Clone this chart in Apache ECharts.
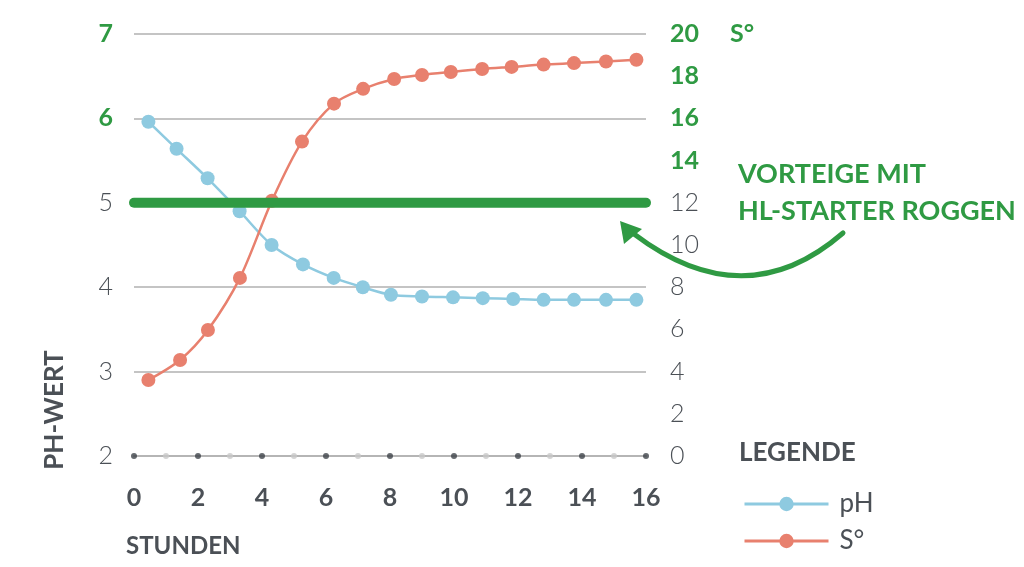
<!DOCTYPE html>
<html>
<head>
<meta charset="utf-8">
<script src="https://cdn.jsdelivr.net/npm/echarts@6/dist/echarts.min.js"></script>
<style>
  html, body { margin: 0; padding: 0; background: #fff; }
  #chart { width: 1024px; height: 567px; }
</style>
</head>
<body>
<div id="chart"></div>
<script>
// Stunden (x) und Messwerte
var phHours = [0.45, 1.33, 2.3, 3.3, 4.3, 5.28, 6.24, 7.15, 8.03, 9.0, 9.97, 10.9, 11.85, 12.8, 13.75, 14.75, 15.7];
var phValues = [5.96, 5.64, 5.29, 4.90, 4.50, 4.27, 4.11, 4.00, 3.91, 3.89, 3.88, 3.87, 3.86, 3.85, 3.85, 3.85, 3.85];
var sHours = [0.45, 1.44, 2.31, 3.31, 4.31, 5.25, 6.25, 7.16, 8.13, 9.0, 9.9, 10.88, 11.8, 12.8, 13.75, 14.75, 15.7];
var sValues = [3.6, 4.55, 5.97, 8.44, 12.1, 14.9, 16.7, 17.4, 17.87, 18.06, 18.2, 18.34, 18.44, 18.55, 18.62, 18.7, 18.78];
var markerHours = [0, 16];
var markerPh = 5;
var tickHours = [0, 1, 2, 3, 4, 5, 6, 7, 8, 9, 10, 11, 12, 13, 14, 15, 16];
var greenLeftTicks = [6, 7];
var greenRightTicks = [14, 16, 18, 20];

var green = '#2f9a43';
var grey = '#4b5056';
var font = 'Lato';

function pairs(xs, ys) {
    var out = [];
    for (var i = 0; i < xs.length; i++) out.push([xs[i], ys[i]]);
    return out;
}

var myChart = echarts.init(document.getElementById('chart'));
var option = {
    animation: false,
    textStyle: { fontFamily: font },
    grid: { left: 134, right: 378, top: 34, bottom: 111 },
    xAxis: {
        type: 'value', min: 0, max: 16, interval: 2,
        axisLine: { lineStyle: { color: '#b5b5b5', width: 2 } },
        axisTick: { show: false },
        splitLine: { show: false },
        axisLabel: { margin: 29, fontSize: 25, fontWeight: 'bold', color: grey }
    },
    yAxis: [{
        type: 'value', min: 2, max: 7, interval: 1,
        axisLine: { show: false }, axisTick: { show: false },
        splitLine: { lineStyle: { color: '#c4c4c4', width: 2 } },
        axisLabel: {
            margin: 21, fontSize: 25,
            formatter: function (v) {
                return greenLeftTicks.indexOf(v) >= 0 ? '{g|' + v + '}' : '{n|' + v + '}';
            },
            rich: {
                g: { fontSize: 25, fontWeight: 'bold', color: green, fontFamily: font },
                n: { fontSize: 25, fontWeight: 300, color: grey, fontFamily: font }
            }
        }
    }, {
        type: 'value', min: 0, max: 20, interval: 2,
        axisLine: { show: false }, axisTick: { show: false },
        splitLine: { show: false },
        axisLabel: {
            margin: 24, fontSize: 25,
            formatter: function (v) {
                return greenRightTicks.indexOf(v) >= 0 ? '{g|' + v + '}' : '{n|' + v + '}';
            },
            rich: {
                g: { fontSize: 25, fontWeight: 'bold', color: green, fontFamily: font },
                n: { fontSize: 25, fontWeight: 300, color: grey, fontFamily: font }
            }
        }
    }],
    legend: {
        orient: 'vertical', left: 738, top: 486,
        itemWidth: 84, itemHeight: 18, itemGap: 11,
        data: ['pH', 'S°'],
        lineStyle: { width: 3 },
        textStyle: { fontSize: 26, color: grey, fontFamily: font, padding: [0, 0, 0, 6] }
    },
    series: [{
        name: 'tickDots', type: 'scatter', yAxisIndex: 0,
        data: tickHours.map(function (h) { return [h, 2]; }),
        symbolSize: 6, silent: true, z: 3,
        itemStyle: {
            color: function (p) { return p.data[0] % 2 === 0 ? '#3f444a' : '#c8c8c8'; }
        }
    }, {
        name: 'pH', type: 'line', yAxisIndex: 0,
        data: pairs(phHours, phValues),
        smooth: 0.3, symbol: 'circle', symbolSize: 14,
        lineStyle: { color: '#8ecae0', width: 2.5 },
        itemStyle: { color: '#8ecae0' }, z: 4
    }, {
        name: 'S°', type: 'line', yAxisIndex: 1,
        data: pairs(sHours, sValues),
        smooth: 0.3, symbol: 'circle', symbolSize: 14,
        lineStyle: { color: '#e8806e', width: 2.5 },
        itemStyle: { color: '#e8806e' }, z: 4
    }, {
        name: 'marker', type: 'line', yAxisIndex: 0,
        data: markerHours.map(function (h) { return [h, markerPh]; }),
        symbol: 'none', silent: true, z: 6,
        lineStyle: { color: green, width: 10, cap: 'round' }
    }],
    graphic: [{
        type: 'text', left: 730, top: 21,
        style: { text: 'S°', fontSize: 25, fontWeight: 'bold', fill: green, fontFamily: font }
    }, {
        type: 'text', x: 55, y: 410, rotation: Math.PI / 2,
        style: { text: 'PH-WERT', fontSize: 26, fontWeight: 'bold', fill: grey, fontFamily: font,
                 align: 'center', verticalAlign: 'middle' }
    }, {
        type: 'text', left: 126, top: 534,
        style: { text: 'STUNDEN', fontSize: 24, fontWeight: 'bold', fill: grey, fontFamily: font }
    }, {
        type: 'text', left: 739, top: 440,
        style: { text: 'LEGENDE', fontSize: 26, fontWeight: 'bold', fill: grey, fontFamily: font }
    }, {
        type: 'text', left: 738, top: 156,
        style: { text: 'VORTEIGE MIT\nHL-STARTER ROGGEN', fontSize: 27, fontWeight: 'bold',
                 fill: green, fontFamily: font, lineHeight: 37 }
    }, {
        type: 'bezierCurve',
        shape: { x1: 843, y1: 233, x2: 634, y2: 234, cpx1: 745, cpy1: 318 },
        style: { stroke: green, lineWidth: 5, fill: null, lineCap: 'round' }
    }, {
        type: 'polygon',
        shape: { points: [[620, 221], [624, 244], [642, 229]] },
        style: { fill: green }
    }]
};
myChart.setOption(option);
</script>
</body>
</html>
